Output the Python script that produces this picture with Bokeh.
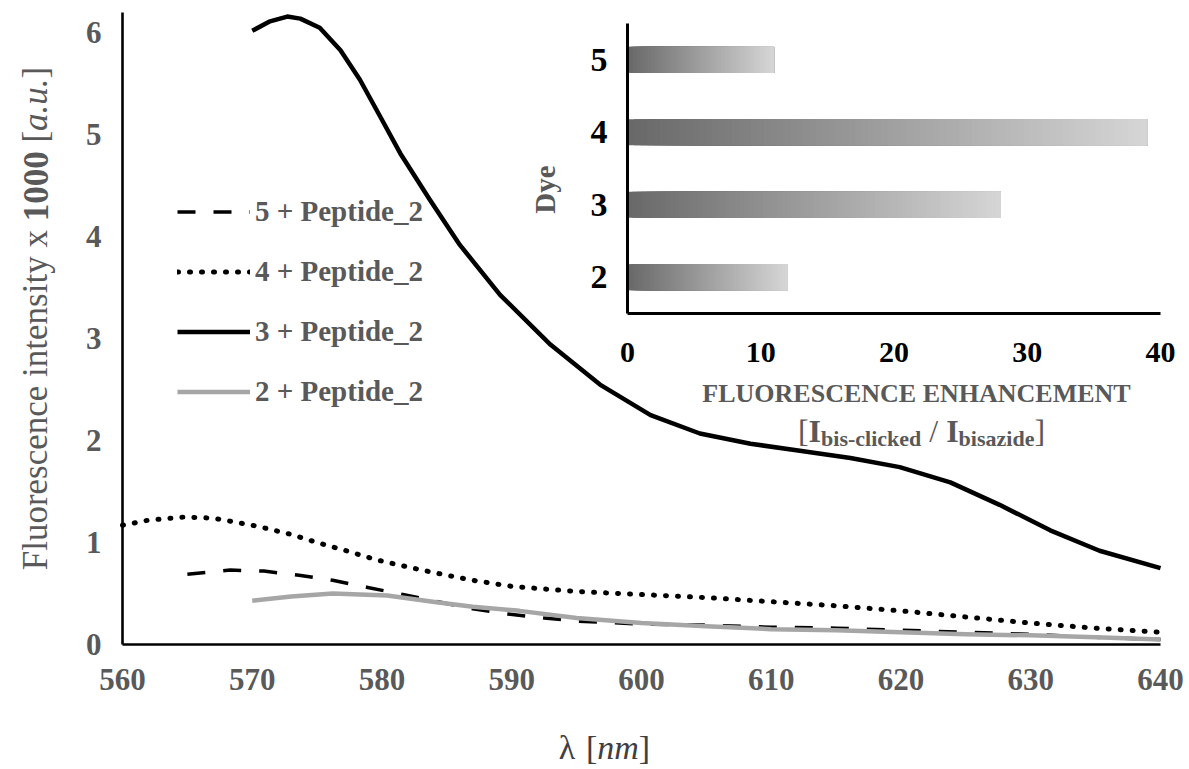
import numpy as np
from bokeh.plotting import figure
from bokeh.models import Range1d, Legend, LegendItem, Label
from bokeh.core.properties import value
from bokeh.embed import file_html
from bokeh.resources import INLINE

# ---------------- data ----------------
wl_3 = [570, 571.3, 572.7, 573.7, 575.2, 576.8, 578.3, 579.9, 581.4, 583.7, 586, 589.1,
        593, 596.8, 600.7, 604.5, 608.4, 612.2, 616.1, 619.9, 623.8, 627.6, 631.5,
        635.3, 640]
int_3 = [6.02, 6.11, 6.16, 6.14, 6.05, 5.83, 5.54, 5.17, 4.82, 4.36, 3.92, 3.43,
         2.94, 2.55, 2.25, 2.07, 1.97, 1.90, 1.83, 1.74, 1.59, 1.37, 1.12, 0.92, 0.75]

wl_4 = [560, 562, 564.7, 567, 570.4, 573, 575, 577.5, 579.6, 582, 584.2, 587, 590,
        595, 600, 605, 610, 615, 620, 625, 630, 635, 640]
int_4 = [1.17, 1.22, 1.25, 1.24, 1.16, 1.08, 1.00, 0.91, 0.83, 0.76, 0.70, 0.63, 0.57,
         0.52, 0.49, 0.46, 0.42, 0.38, 0.33, 0.27, 0.21, 0.16, 0.12]

wl_5 = [565, 568.3, 570.9, 573.6, 576.2, 578.9, 581.6, 584.5, 587, 589.6, 592.5, 595,
        600, 605, 610, 615, 620, 625, 630, 635, 640]
int_5 = [0.69, 0.73, 0.72, 0.68, 0.63, 0.56, 0.49, 0.415, 0.35, 0.30, 0.26, 0.23,
         0.20, 0.19, 0.17, 0.16, 0.14, 0.12, 0.10, 0.07, 0.05]

wl_2 = [570, 573, 576.2, 580.4, 584.2, 587, 590.6, 595, 600, 605, 610, 615, 620,
        625, 630, 635, 640]
int_2 = [0.43, 0.47, 0.50, 0.48, 0.415, 0.37, 0.33, 0.26, 0.21, 0.18, 0.15, 0.14,
         0.12, 0.10, 0.09, 0.07, 0.05]

series_labels = ["5 + Peptide_2", "4 + Peptide_2", "3 + Peptide_2", "2 + Peptide_2"]

dyes = ["2", "3", "4", "5"]
enhancement = [12, 28, 39, 11]

x_ticks = [560, 570, 580, 590, 600, 610, 620, 630, 640]
y_ticks = [0, 1, 2, 3, 4, 5, 6]
inset_ticks = [0, 10, 20, 30, 40]

# ---------------- layout (canvas pixels, origin top-left) ----------------
W, H = 1187, 767
FL, FR, FT, FB = 122, 1160, 12, 644          # main axes box
X0, X1, Y0, Y1 = 560, 640, 0, 6.2
IL, IR, IT, IB = 627, 1160, 23, 313          # inset axes box
IXMAX, IYMAX = 40, len(dyes)

SERIF = "Liberation Serif"
GREY = "#595959"


def fx(px):
    return X0 + (px - FL) / (FR - FL) * (X1 - X0)


def fy(py):
    return Y0 + (FB - py) / (FB - FT) * (Y1 - Y0)


sx = (IR - IL) / IXMAX
sy = (IB - IT) / IYMAX


def ix(px):
    return (px - IL) / sx


def iy(py):
    return (IB - py) / sy


p = figure(width=W, height=H, x_range=Range1d(fx(0), fx(W)), y_range=Range1d(fy(H), fy(0)),
           output_backend="svg", toolbar_location=None,
           x_axis_location=None, y_axis_location=None, min_border=0)
p.outline_line_color = None
p.grid.visible = False
p.background_fill_color = "white"
p.extra_x_ranges = {"ix": Range1d(ix(0), ix(W))}
p.extra_y_ranges = {"iy": Range1d(iy(H), iy(0))}

# ---------------- main axes ----------------
p.segment(x0=[X0, X0], y0=[Y0, Y0], x1=[X1, X0], y1=[Y0, Y1], line_color="black",
          line_width=2.6)
p.text(x=x_ticks, y=[fy(679)] * len(x_ticks), text=[str(t) for t in x_ticks],
       text_font=value(SERIF), text_font_style="bold", text_font_size="31px",
       text_color=GREY, text_align="center", text_baseline="middle")
p.text(x=[fx(101)] * len(y_ticks), y=y_ticks, text=[str(t) for t in y_ticks],
       text_font=value(SERIF), text_font_style="bold", text_font_size="31px",
       text_color=GREY, text_align="right", text_baseline="middle")

# ---------------- curves ----------------
r5 = p.line(wl_5, int_5, line_color="black", line_width=3.5, line_dash="18 18")
r4 = p.line(wl_4, int_4, line_color="black", line_width=5, line_dash="1 11",
            line_cap="round")
r3 = p.line(wl_3, int_3, line_color="black", line_width=4.5, line_join="round")
r2 = p.line(wl_2, int_2, line_color="#a6a6a6", line_width=4.5, line_join="round")

legend = Legend(items=[LegendItem(label=lab, renderers=[r]) for lab, r in
                       zip(series_labels, [r5, r4, r3, r2])],
                location=(177, H - 408))
legend.glyph_width = 73
legend.glyph_height = 33
legend.label_height = 33
legend.spacing = 27
legend.padding = 0
legend.margin = 0
legend.label_standoff = 5
legend.border_line_color = None
legend.background_fill_alpha = 0
legend.label_text_font = SERIF
legend.label_text_font_style = "bold"
legend.label_text_font_size = "29px"
legend.label_text_color = GREY
p.add_layout(legend)

# ---------------- inset bar chart (gradient bars) ----------------
NSLICE = 80
dark, light = np.array([104, 104, 104]), np.array([214, 214, 214])
bar_h = 0.36
lefts, rights, bots, tops, cols = [], [], [], [], []
for i, v in enumerate(enhancement):
    edges = np.linspace(0, v, NSLICE + 1)
    for k in range(NSLICE):
        c = dark + (light - dark) * (k + 0.5) / NSLICE
        lefts.append(edges[k])
        rights.append(v)
        bots.append(i + 0.5 - bar_h / 2)
        tops.append(i + 0.5 + bar_h / 2)
        cols.append("#%02x%02x%02x" % tuple(int(round(t)) for t in c))
p.quad(left=lefts, right=rights, bottom=bots, top=tops, fill_color=cols,
       line_color=None, x_range_name="ix", y_range_name="iy")

p.segment(x0=[0, 0], y0=[0, 0], x1=[IXMAX, 0], y1=[0, IYMAX], line_color="black",
          line_width=3, x_range_name="ix", y_range_name="iy")

p.text(x=inset_ticks, y=[iy(352)] * len(inset_ticks),
       text=[str(t) for t in inset_ticks], text_font=value(SERIF),
       text_font_style="bold", text_font_size="30px", text_color="black",
       text_align="center", text_baseline="middle",
       x_range_name="ix", y_range_name="iy")
p.text(x=[ix(IL - 20)] * len(dyes), y=[i + 0.5 for i in range(len(dyes))],
       text=dyes, text_font=value(SERIF), text_font_style="bold",
       text_font_size="34px", text_color="black", text_align="right",
       text_baseline="middle", x_range_name="ix", y_range_name="iy")

p.add_layout(Label(x=ix(544), y=iy(189), text="Dye", angle=np.pi / 2,
                   text_font=SERIF, text_font_style="bold", text_font_size="29px",
                   text_color=GREY, text_align="center", text_baseline="middle",
                   x_range_name="ix", y_range_name="iy"))
p.add_layout(Label(x=ix(916), y=iy(393), text="FLUORESCENCE ENHANCEMENT",
                   text_font=SERIF, text_font_style="bold", text_font_size="26px",
                   text_color=GREY, text_align="center", text_baseline="middle",
                   x_range_name="ix", y_range_name="iy"))

# Times-metric widths (em/1000) for composing mixed-style text
W_REG = {" ": 250, "[": 333, "]": 333, "/": 278, "λ": 549, "F": 556, "l": 278,
         "u": 500, "o": 500, "r": 333, "e": 444, "s": 389, "c": 444, "n": 500,
         "i": 278, "t": 278, "y": 500, "x": 500}
W_BOLD = {"I": 389, "b": 556, "i": 278, "s": 389, "-": 333, "c": 444, "l": 278,
          "k": 556, "e": 444, "d": 556, "a": 500, "z": 444, "1": 500, "0": 500, " ": 250}
W_ITAL = {"n": 500, "m": 722, "a": 500, ".": 250, "u": 500, " ": 250}
TABLES = {"normal": W_REG, "bold": W_BOLD, "italic": W_ITAL}


def width(txt, style, size):
    return sum(TABLES[style].get(ch, 500) for ch in txt) / 1000 * size


def lead(txt, style, size):
    n = len(txt) - len(txt.lstrip(" "))
    return width(" " * n, style, size)


# bracket line: [I_bis-clicked / I_bisazide]
pieces = [("[", "normal", 32, 0), ("I", "bold", 32, 0), ("bis-clicked", "bold", 22, 8),
          (" / ", "normal", 32, 0), ("I", "bold", 32, 0), ("bisazide", "bold", 22, 8),
          ("]", "normal", 32, 0)]
total = sum(width(t, st, s) for t, st, s, d in pieces)
cx = 921 - total / 2
for t, st, s, d in pieces:
    p.add_layout(Label(x=ix(cx + lead(t, st, s)), y=iy(430 + d), text=t.strip(),
                       text_font=SERIF, text_font_style=st, text_font_size=f"{s}px",
                       text_color=GREY, text_align="left", text_baseline="alphabetic",
                       x_range_name="ix", y_range_name="iy"))
    cx += width(t, st, s)

# main y title: Fluorescence intensity x 1000 [a.u.]
ys = 35
ypieces = [("Fluorescence intensity x", "normal"), (" 1000", "bold"),
           (" [", "normal"), ("a.u.", "italic"), ("]", "normal")]
ytot = sum(width(t, st, ys) for t, st in ypieces)
cy = 318 + ytot / 2
for t, st in ypieces:
    p.add_layout(Label(x=fx(35), y=fy(cy - lead(t, st, ys)), text=t.strip(),
                       angle=np.pi / 2, text_font=SERIF, text_font_style=st,
                       text_font_size=f"{ys}px", text_color=GREY, text_align="left",
                       text_baseline="middle"))
    cy -= width(t, st, ys)

# main x title: λ [nm]
xs = 34
xpieces = [("λ", "normal"), (" [", "normal"), ("nm", "italic"), ("]", "normal")]
xtot = sum(width(t, st, xs) for t, st in xpieces)
cx = 604 - xtot / 2
for t, st in xpieces:
    p.add_layout(Label(x=fx(cx + lead(t, st, xs)), y=fy(747), text=t.strip(),
                       text_font=SERIF, text_font_style=st, text_font_size=f"{xs}px",
                       text_color="#404040", text_align="left", text_baseline="middle"))
    cx += width(t, st, xs)

open("out.html", "w").write(file_html(p, INLINE))
